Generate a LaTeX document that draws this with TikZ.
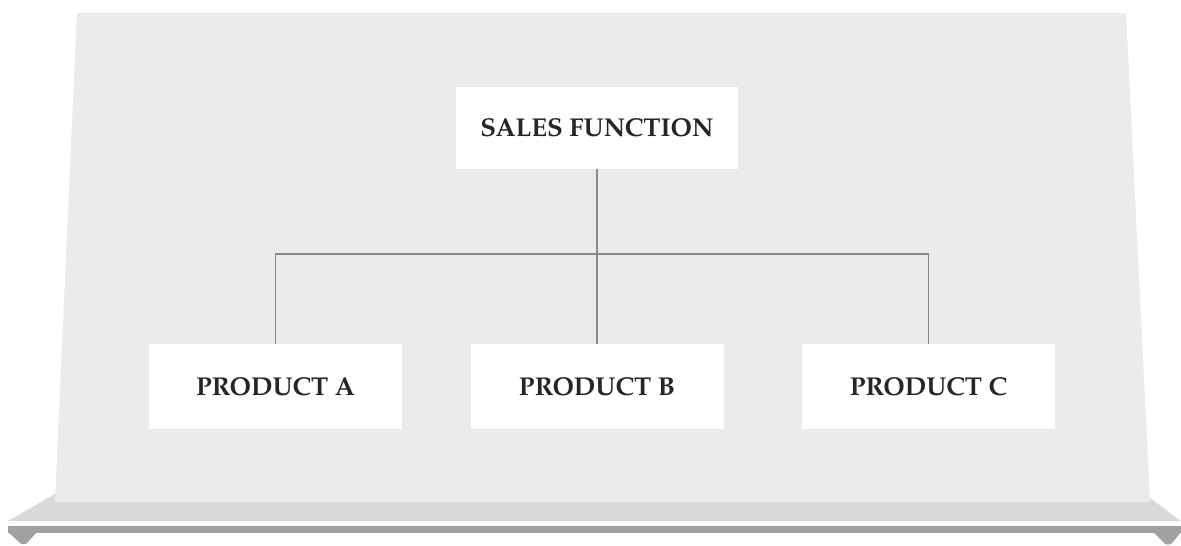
\documentclass[tikz,border=0pt]{standalone}
\usepackage{fontspec}
\setmainfont{TeX Gyre Pagella}
\definecolor{panel}{HTML}{EAEBEB}
\definecolor{baselight}{HTML}{D8D9D9}
\definecolor{basedark}{HTML}{A0A2A2}
\definecolor{conn}{HTML}{8A8A8A}
\begin{document}
\begin{tikzpicture}[x=1pt,y=-1pt,
  box/.style={fill=white,draw=none,inner sep=0pt,font=\fontsize{25.8}{30}\selectfont\bfseries,text=black!85},
  link/.style={draw=conn,line width=1.2pt}]
\useasboundingbox (0,0) rectangle (1181,546);
\fill[white] (0,0) rectangle (1181,546);
% stand
\fill[baselight] (55,494) -- (8,521) -- (1181,521) -- (1150,498) -- cycle;
\fill[basedark] (8,526) rectangle (1181,533);
\fill[basedark] (8,532) -- (37,532) -- (28,542) to[out=-120,in=-60] (19,542) -- cycle;
\fill[basedark] (1153,532) -- (1181,532) -- (1173,542) to[out=-120,in=-60] (1163,542) -- cycle;
% panel
\fill[panel] (77,13) -- (1126,13) -- (1150,502) -- (55,502) -- cycle;
% boxes
\node[box,minimum width=282pt,minimum height=82pt] (sf) at (597,128) {SALES FUNCTION};
\node[box,minimum width=253pt,minimum height=85pt] (pa) at (275.5,386.5) {PRODUCT A};
\node[box,minimum width=253pt,minimum height=85pt] (pb) at (597,386.5) {PRODUCT B};
\node[box,minimum width=253pt,minimum height=85pt] (pc) at (928.5,386.5) {PRODUCT C};
% connectors
\coordinate (hub) at (597,254);
\draw[link] (sf.south) -- (hub);
\draw[link] (pa.north) -- (pa.north |- hub) -- (pc.north |- hub) -- (pc.north);
\draw[link] (hub) -- (pb.north);
\end{tikzpicture}
\end{document}
